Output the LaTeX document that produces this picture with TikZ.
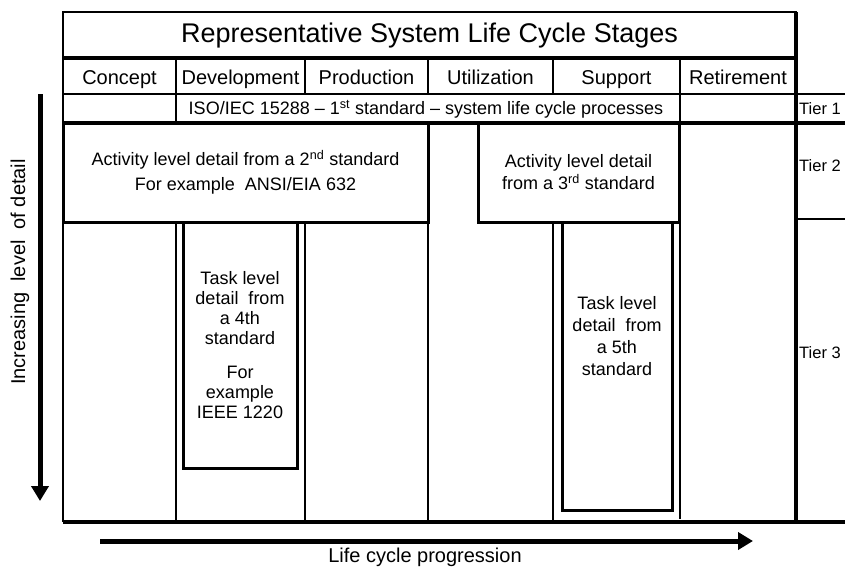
\documentclass[tikz,border=0pt]{standalone}
\usepackage{fontspec}
\setmainfont{Liberation Sans}
\usetikzlibrary{arrows.meta,positioning}
\tikzset{
  cell/.style={inner sep=0pt, font=\fontsize{18}{21}\selectfont, align=center},
  stage/.style={cell, anchor=base, font=\fontsize{20}{22}\selectfont},
  tier/.style={cell, anchor=west, font=\fontsize{16.5}{20}\selectfont},
  boxed/.style={draw, line width=3pt, inner sep=0pt, align=center, font=\fontsize{18}{22}\selectfont},
  rule/.style={line width=1.8pt},
  thinrule/.style={line width=1.2pt},
  heavyrule/.style={line width=3.5pt},
  bigarrow/.style={line width=5pt, -{Triangle[width=17pt,length=15pt]}},
}
\begin{document}
\begin{tikzpicture}[x=1pt,y=-1pt]
\useasboundingbox (0,0) rectangle (845,568);

% title and stages
\draw[rule] (63,12) rectangle (796,94);
\draw[heavyrule] (63,58) -- (796,58);
\node[cell, font=\fontsize{27}{30}\selectfont] (title) at (429.5,36) {Representative System Life Cycle Stages};
\foreach \nm/\lbl/\xa/\xb in {concept/Concept/63/176, develop/Development/176/305,
    produce/Production/305/428, utilize/Utilization/428/553,
    support/Support/553/680, retire/Retirement/680/796}
  \node[stage] (\nm) at ({(\xa+\xb)/2},84) {\lbl};
\foreach \xx in {176,428,680} \draw[thinrule] (\xx,58) -- (\xx,94);
\foreach \xx in {305,553} \draw[rule,line width=2.4pt] (\xx,58) -- (\xx,94);

% tier 1 row
\draw[rule] (796,94) -- (845,94);
\draw[heavyrule] (63,123) -- (845,123);
\draw[thinrule] (176,94) -- (176,123) (680,94) -- (680,123);
\node[cell] (iso) at (426,109) {ISO/IEC 15288 -- 1\textsuperscript{st} standard -- system life cycle processes};

% frame of the lower tiers
\draw[rule] (63,94) -- (63,522);
\draw[heavyrule] (796,12) -- (796,522);
\draw[heavyrule] (63,522) -- (845,522);
\draw[rule] (796,219) -- (845,219);
\foreach \xx in {176,428} \draw[thinrule] (\xx,222) -- (\xx,522);
\foreach \xx in {305,553} \draw[rule] (\xx,222) -- (\xx,522);
\draw[thinrule] (680,123) -- (680,519);

% tier labels
\node[tier] (tier1) at (799,109) {Tier 1};
\node[tier] (tier2) at (799,166) {Tier 2};
\node[tier] (tier3) at (799,353) {Tier 3};

% standards boxes
\node[boxed, fill=white, minimum width=365pt, minimum height=99pt] (std2) at (245.5,172.5)
  {Activity level detail from a 2\textsuperscript{nd} standard\\[3pt] For example\ \ ANSI/EIA 632};
\node[boxed, fill=white, minimum width=201pt, minimum height=99pt] (std3) at (578.5,172.5)
  {Activity level detail\\ from a 3\textsuperscript{rd} standard};
\node[boxed, minimum width=114pt, minimum height=246pt, font=\fontsize{18}{20}\selectfont] (std4) at (240,345)
  {Task level\\ detail\ \ from\\ a 4th\\ standard\\[14pt] For\\ example\\ IEEE 1220};
\node[boxed, minimum width=110pt, minimum height=288pt] (std5) at (617,366) {};
\node[cell, font=\fontsize{18}{22}\selectfont] (std5txt) at (617,336)
  {Task level\\ detail\ \ from\\ a 5th\\ standard};

% axes
\coordinate (vtop) at (40,94);
\coordinate (vbot) at (40,501);
\draw[bigarrow] (vtop) -- (vbot);
\node[cell, rotate=90, font=\fontsize{20}{22}\selectfont] (detail) at (20,272) {Increasing\ \ level\ \ of detail};
\coordinate (hleft) at (100,541);
\coordinate (hright) at (753,541);
\draw[bigarrow] (hleft) -- (hright);
\node[cell, font=\fontsize{20}{22}\selectfont] (progress) at (425,557) {Life cycle progression};
\end{tikzpicture}
\end{document}
